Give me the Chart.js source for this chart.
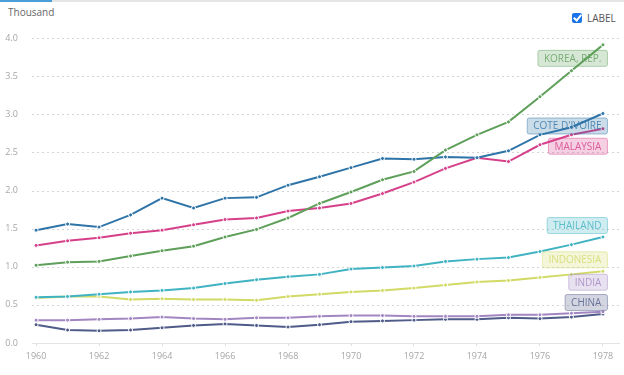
<!DOCTYPE html>
<html>
<head>
<meta charset="utf-8">
<script src="https://cdn.jsdelivr.net/npm/chart.js@4.4.0/dist/chart.umd.min.js"></script>
<style>
  html, body { margin: 0; padding: 0; background: #fff; }
  body { width: 624px; height: 375px; position: relative; overflow: hidden; font-family: "Open Sans", sans-serif; }
  #topbar { position: absolute; left: 0; top: 0; width: 624px; height: 2px; background: #e6e6e6; }
  #topbar span { position: absolute; left: 0; top: 0; width: 52px; height: 2px; background: #4a9fd8; }
  #unit { position: absolute; left: 8px; top: 5px; font-size: 10px; color: #666; }
  #lbl { position: absolute; left: 572px; top: 11px; font-size: 10px; color: #555; display: flex; align-items: center; }
  #lbl i { display: inline-block; width: 10px; height: 10px; background: #1a73e8; border-radius: 2px; margin-right: 5px; position: relative; }
  #lbl i::after { content: ""; position: absolute; left: 3px; top: 0px; width: 3px; height: 6px; border: solid #fff; border-width: 0 2px 2px 0; transform: rotate(40deg); }
  #wrap { position: absolute; left: 0; top: 0; width: 624px; height: 375px; }
</style>
</head>
<body>
<div id="topbar"><span></span></div>
<div id="unit">Thousand</div>
<div id="lbl"><i></i>LABEL</div>
<div id="wrap"><canvas id="grafico" width="624" height="375"></canvas></div>
<script>
// ======= DADOS =======
const anos = [1960, 1961, 1962, 1963, 1964, 1965, 1966, 1967, 1968, 1969,
  1970, 1971, 1972, 1973, 1974, 1975, 1976, 1977, 1978];
const ticksX = [1960, 1962, 1964, 1966, 1968, 1970, 1972, 1974, 1976, 1978];

const korea = [1.02, 1.06, 1.07, 1.14, 1.21, 1.27, 1.39, 1.49, 1.64, 1.83,
  1.98, 2.14, 2.25, 2.53, 2.73, 2.90, 3.23, 3.57, 3.91];
const coteIvoire = [1.48, 1.56, 1.52, 1.68, 1.90, 1.77, 1.90, 1.91, 2.07, 2.18,
  2.30, 2.42, 2.41, 2.44, 2.43, 2.52, 2.73, 2.83, 3.01];
const malaysia = [1.28, 1.34, 1.38, 1.44, 1.48, 1.55, 1.62, 1.64, 1.73, 1.77,
  1.83, 1.96, 2.11, 2.29, 2.43, 2.38, 2.60, 2.73, 2.81];
const thailand = [0.60, 0.61, 0.64, 0.67, 0.69, 0.72, 0.78, 0.83, 0.87, 0.90,
  0.97, 0.99, 1.01, 1.07, 1.10, 1.12, 1.20, 1.29, 1.39];
const indonesia = [0.59, 0.61, 0.61, 0.57, 0.58, 0.57, 0.57, 0.56, 0.61, 0.64,
  0.67, 0.69, 0.72, 0.76, 0.80, 0.82, 0.86, 0.90, 0.94];
const india = [0.30, 0.30, 0.31, 0.32, 0.34, 0.32, 0.31, 0.33, 0.33, 0.35,
  0.36, 0.36, 0.35, 0.35, 0.35, 0.37, 0.37, 0.39, 0.41];
const china = [0.24, 0.17, 0.16, 0.17, 0.20, 0.23, 0.25, 0.23, 0.21, 0.24,
  0.28, 0.29, 0.30, 0.31, 0.31, 0.33, 0.32, 0.34, 0.38];

const series = [
  { nome: "KOREA, REP.", dados: korea, cor: "#5e9f5a", dy: 13 },
  { nome: "COTE D'IVOIRE", dados: coteIvoire, cor: "#2e74a8", dy: 12 },
  { nome: "MALAYSIA", dados: malaysia, cor: "#d6408a", dy: 17 },
  { nome: "THAILAND", dados: thailand, cor: "#40b3c2", dy: -12 },
  { nome: "INDONESIA", dados: indonesia, cor: "#d2da66", dy: -12 },
  { nome: "INDIA", dados: india, cor: "#a286c2", dy: -30 },
  { nome: "CHINA", dados: china, cor: "#4f5b88", dy: -12 },
];

function rgba(hex, a) {
  const n = parseInt(hex.slice(1), 16);
  return `rgba(${n >> 16}, ${(n >> 8) & 255}, ${n & 255}, ${a})`;
}

// ======= GRADE PONTILHADA =======
const gradePontilhada = {
  id: "gradePontilhada",
  beforeDatasetsDraw(chart) {
    const { ctx, chartArea, scales } = chart;
    ctx.save();
    ctx.strokeStyle = "#d4d4d4";
    ctx.lineWidth = 1;
    ctx.setLineDash([2, 3]);
    scales.y.ticks.forEach((t) => {
      if (t.value === 0) return;
      const y = Math.round(scales.y.getPixelForValue(t.value)) + 0.5;
      ctx.beginPath();
      ctx.moveTo(chartArea.left, y);
      ctx.lineTo(chartArea.right, y);
      ctx.stroke();
    });
    ctx.restore();
  },
};

// ======= ROTULOS NO FIM DAS LINHAS =======
const rotulos = {
  id: "rotulos",
  afterDatasetsDraw(chart) {
    const ctx = chart.ctx;
    ctx.save();
    ctx.font = '10px "Open Sans", sans-serif';
    ctx.textBaseline = "middle";
    chart.data.datasets.forEach((ds, i) => {
      const meta = chart.getDatasetMeta(i);
      const pt = meta.data[meta.data.length - 1];
      const s = series[i];
      const w = ctx.measureText(s.nome).width + 12;
      const h = 16;
      const right = pt.x + 4;
      const cy = pt.y + s.dy;
      const x = right - w, y = cy - h / 2;
      ctx.beginPath();
      ctx.roundRect(x + 0.5, y + 0.5, w, h, 2);
      ctx.fillStyle = rgba(s.cor, 0.25);
      ctx.fill();
      ctx.strokeStyle = rgba(s.cor, 0.45);
      ctx.lineWidth = 1;
      ctx.stroke();
      ctx.fillStyle = rgba(s.cor, 0.8);
      ctx.textAlign = "center";
      ctx.fillText(s.nome, x + w / 2 + 0.5, cy + 1);
    });
    ctx.restore();
  },
};

new Chart(document.getElementById("grafico"), {
  type: "line",
  data: {
    datasets: series.map((s) => ({
      label: s.nome,
      data: s.dados.map((v, i) => ({ x: anos[i], y: v })),
      borderColor: s.cor,
      backgroundColor: s.cor,
      borderWidth: 2,
      pointRadius: 2,
      pointBorderColor: "#fff",
      pointBorderWidth: 1,
      pointBackgroundColor: s.cor,
      tension: 0,
      fill: false,
    })),
  },
  options: {
    responsive: false,
    animation: false,
    devicePixelRatio: 1,
    layout: { padding: { left: 0, top: 38, right: 5, bottom: 0 } },
    plugins: { legend: { display: false }, tooltip: { enabled: false } },
    scales: {
      x: {
        type: "linear",
        min: 1959.87,
        max: 1978.51,
        afterBuildTicks: (scale) => {
          scale.ticks = ticksX.map((v) => ({ value: v }));
        },
        afterFit: (scale) => { scale.height = 32; },
        grid: {
          drawOnChartArea: false,
          drawTicks: true,
          tickLength: 3,
          color: "#e0e0e0",
        },
        border: { color: "#e3e3e3" },
        ticks: {
          color: "#a6a6a6",
          font: { size: 9, family: '"Open Sans", sans-serif' },
          padding: 5,
          maxRotation: 0,
          callback: (v) => String(v),
        },
      },
      y: {
        min: 0,
        max: 4,
        afterFit: (scale) => { scale.width = 32; },
        ticks: {
          stepSize: 0.5,
          color: "#a6a6a6",
          padding: 6,
          font: { size: 9, family: '"Open Sans", sans-serif' },
          callback: (v) => v.toFixed(1),
        },
        grid: { display: false },
        border: { display: false },
      },
    },
  },
  plugins: [gradePontilhada, rotulos],
});
</script>
</body>
</html>
